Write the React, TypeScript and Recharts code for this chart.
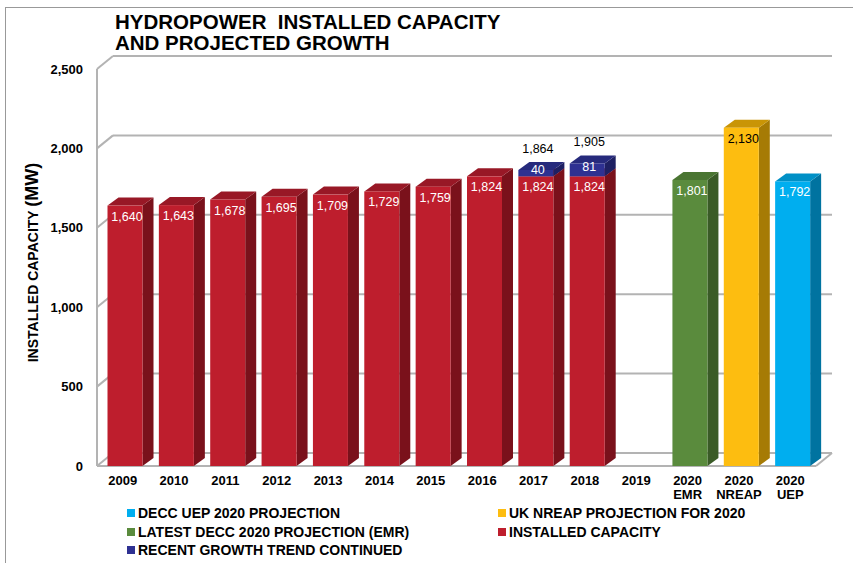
import { BarChart, Bar, XAxis, YAxis, CartesianGrid, LabelList, Label } from "recharts";

const categories = [
  "2009", "2010", "2011", "2012", "2013", "2014", "2015", "2016", "2017", "2018", "2019",
  "2020 EMR", "2020 NREAP", "2020 UEP",
];
const installed = [1640, 1643, 1678, 1695, 1709, 1729, 1759, 1824, 1824, 1824, null, null, null, null];
const trend = [null, null, null, null, null, null, null, null, 40, 81, null, null, null, null];
const emr = [null, null, null, null, null, null, null, null, null, null, null, 1801, null, null];
const nreap = [null, null, null, null, null, null, null, null, null, null, null, null, 2130, null];
const uep = [null, null, null, null, null, null, null, null, null, null, null, null, null, 1792];
const yTicks = [0, 500, 1000, 1500, 2000, 2500];

const FONT = "'Liberation Sans', Arial, sans-serif";

// wall depth (grid) and bar depth
const DX = 16;
const DY = 13;
const BDX = 11;
const BDY = 8;
const SHIFT = 2.5;
const PLOT_BOTTOM = 466;

const SERIES = [
  { key: "installed", name: "INSTALLED CAPACITY", front: "#BE1E2D", side: "#7A111B", top: "#981826", text: "#fff" },
  { key: "trend", name: "RECENT GROWTH TREND CONTINUED", front: "#2E3192", side: "#1E2062", top: "#262A7C", text: "#fff" },
  { key: "emr", name: "LATEST DECC 2020 PROJECTION (EMR)", front: "#5A8B3D", side: "#3A5B27", top: "#4A7532", text: "#fff" },
  { key: "nreap", name: "UK NREAP PROJECTION FOR 2020", front: "#FDBD10", side: "#A67B05", top: "#C99506", text: "#000" },
  { key: "uep", name: "DECC UEP 2020 PROJECTION", front: "#00AEEF", side: "#0073A0", top: "#0090C6", text: "#fff" },
];
const legendOrder = ["uep", "nreap", "emr", "installed", "trend"];

const data = categories.map((name, i) => ({
  name,
  installed: installed[i],
  trend: trend[i],
  emr: emr[i],
  nreap: nreap[i],
  uep: uep[i],
  total: trend[i] != null ? (installed[i] ?? 0) + (trend[i] ?? 0) : null,
}));

const fmt = (v: number) => v.toLocaleString("en-US");

const makeShape = (s: (typeof SERIES)[number]) => (props: any) => {
  const { x, y, width, height } = props;
  if (x == null || !height || height < 0.5) return <g />;
  const x0 = x + SHIFT;
  const x1 = x0 + width;
  const y0 = y;
  const y1 = y + height;
  return (
    <g>
      <polygon
        points={`${x1},${y1} ${x1 + BDX},${y1 - BDY} ${x1 + BDX},${y0 - BDY} ${x1},${y0}`}
        fill={s.side}
      />
      <polygon
        points={`${x0},${y0} ${x1},${y0} ${x1 + BDX},${y0 - BDY} ${x0 + BDX},${y0 - BDY}`}
        fill={s.top}
      />
      <rect x={x0} y={y0} width={width} height={height} fill={s.front} />
    </g>
  );
};

const insideLabel = (color: string, centered: boolean) => (p: any) => {
  const { x, y, width, height, value } = p;
  if (value == null || x == null) return null;
  const cy = centered ? y + height / 2 - 3 : y + 11;
  return (
    <text
      x={x + width / 2 + SHIFT + 2}
      y={cy}
      textAnchor="middle"
      dominantBaseline="central"
      fill={color}
      fontSize={12.5}
      fontFamily={FONT}
    >
      {fmt(value)}
    </text>
  );
};

const totalLabel = (p: any) => {
  const { x, y, width, value } = p;
  if (value == null || x == null) return null;
  return (
    <text
      x={x + width / 2 + SHIFT + 2}
      y={y - 21}
      textAnchor="middle"
      dominantBaseline="central"
      fill="#000"
      fontSize={12.5}
      fontFamily={FONT}
    >
      {fmt(value)}
    </text>
  );
};

const renderGridLine = (p: any) => {
  const { x1, x2, y1 } = p;
  const isFloor = Math.abs(y1 - PLOT_BOTTOM) < 1;
  return (
    <g key={p.key ?? `g-${y1}`}>
      <line x1={x1} y1={y1} x2={x1 + DX} y2={y1 - DY} stroke="#B3B3B3" strokeWidth={2} />
      <line x1={x1 + DX} y1={y1 - DY} x2={x2 + DX} y2={y1 - DY} stroke="#B3B3B3" strokeWidth={2} />
      {isFloor && (
        <>
          <line x1={x1} y1={y1} x2={x2} y2={y1} stroke="#B3B3B3" strokeWidth={2} />
          <line x1={x2} y1={y1} x2={x2 + DX} y2={y1 - DY} stroke="#B3B3B3" strokeWidth={2} />
        </>
      )}
    </g>
  );
};

const XTick = (p: any) => {
  const { x, y, payload } = p;
  const parts = String(payload.value).split(" ");
  return (
    <text x={x} y={y} textAnchor="middle" fill="#000" fontSize={13} fontWeight="bold" fontFamily={FONT}>
      <tspan x={x} dy={18.5}>
        {parts[0]}
      </tspan>
      {parts[1] && (
        <tspan x={x} dy={14.5}>
          {parts[1]}
        </tspan>
      )}
    </text>
  );
};

const YTitle = (p: any) => {
  const vb = p.viewBox;
  const cx = 38;
  const cy = vb.y + vb.height / 2 - 5;
  return (
    <text
      x={cx}
      y={cy}
      transform={`rotate(-90, ${cx}, ${cy})`}
      textAnchor="middle"
      fill="#000"
      fontWeight="bold"
      fontFamily={FONT}
    >
      <tspan fontSize={14}>INSTALLED CAPACITY </tspan>
      <tspan fontSize={18}>(MW)</tspan>
    </text>
  );
};

export default function App() {
  const legendItems = legendOrder.map((k) => SERIES.find((s) => s.key === k)!);
  return (
    <div
      style={{
        position: "absolute",
        left: 0,
        top: 0,
        width: 853,
        height: 563,
        background: "#fff",
        fontFamily: FONT,
        overflow: "hidden",
      }}
    >
      <div style={{ position: "absolute", left: 5, top: 7, right: 0, bottom: 0, borderLeft: "1px solid #999", borderTop: "1px solid #999" }} />
      <div
        style={{
          position: "absolute",
          left: 115,
          top: 11.4,
          fontSize: 20.5,
          lineHeight: "21px",
          fontWeight: "bold",
          color: "#000",
          whiteSpace: "pre",
        }}
      >
        {"HYDROPOWER  INSTALLED CAPACITY\nAND PROJECTED GROWTH"}
      </div>
      <div style={{ position: "absolute", left: 0, top: 0 }}>
        <BarChart
          width={853}
          height={563}
          data={data}
          margin={{ top: 69, right: 37, bottom: 67, left: 37 }}
          barSize={35}
        >
          <CartesianGrid vertical={false} horizontal={renderGridLine} />
          <XAxis
            dataKey="name"
            height={30}
            interval={0}
            tickLine={false}
            axisLine={false}
            tickSize={0}
            tickMargin={0}
            tick={<XTick />}
          />
          <YAxis
            width={60}
            domain={[0, 2500]}
            ticks={yTicks}
            tickFormatter={fmt}
            tickLine={false}
            tickSize={6}
            tickMargin={8}
            axisLine={{ stroke: "#B3B3B3", strokeWidth: 2 }}
            tick={{ fontSize: 13, fontWeight: "bold", fill: "#000", fontFamily: FONT }}
          >
            <Label content={<YTitle />} />
          </YAxis>
          {SERIES.map((s) => (
            <Bar
              key={s.key}
              dataKey={s.key}
              stackId="a"
              isAnimationActive={false}
              shape={makeShape(s)}
            >
              <LabelList dataKey={s.key} content={insideLabel(s.text, s.key === "trend")} />
              {s.key === "trend" && <LabelList dataKey="total" content={totalLabel} />}
            </Bar>
          ))}
        </BarChart>
      </div>
      <div
        style={{
          position: "absolute",
          left: 127,
          top: 503.75,
          display: "grid",
          gridTemplateColumns: "371px auto",
          gridAutoRows: "18.5px",
          fontSize: 14,
          fontWeight: "bold",
          color: "#000",
        }}
      >
        {legendItems.map((s) => (
          <div key={s.key} style={{ display: "flex", alignItems: "center", whiteSpace: "nowrap" }}>
            <span style={{ width: 8, height: 8, background: s.front, marginRight: 3, display: "inline-block" }} />
            {s.name}
          </div>
        ))}
      </div>
    </div>
  );
}
